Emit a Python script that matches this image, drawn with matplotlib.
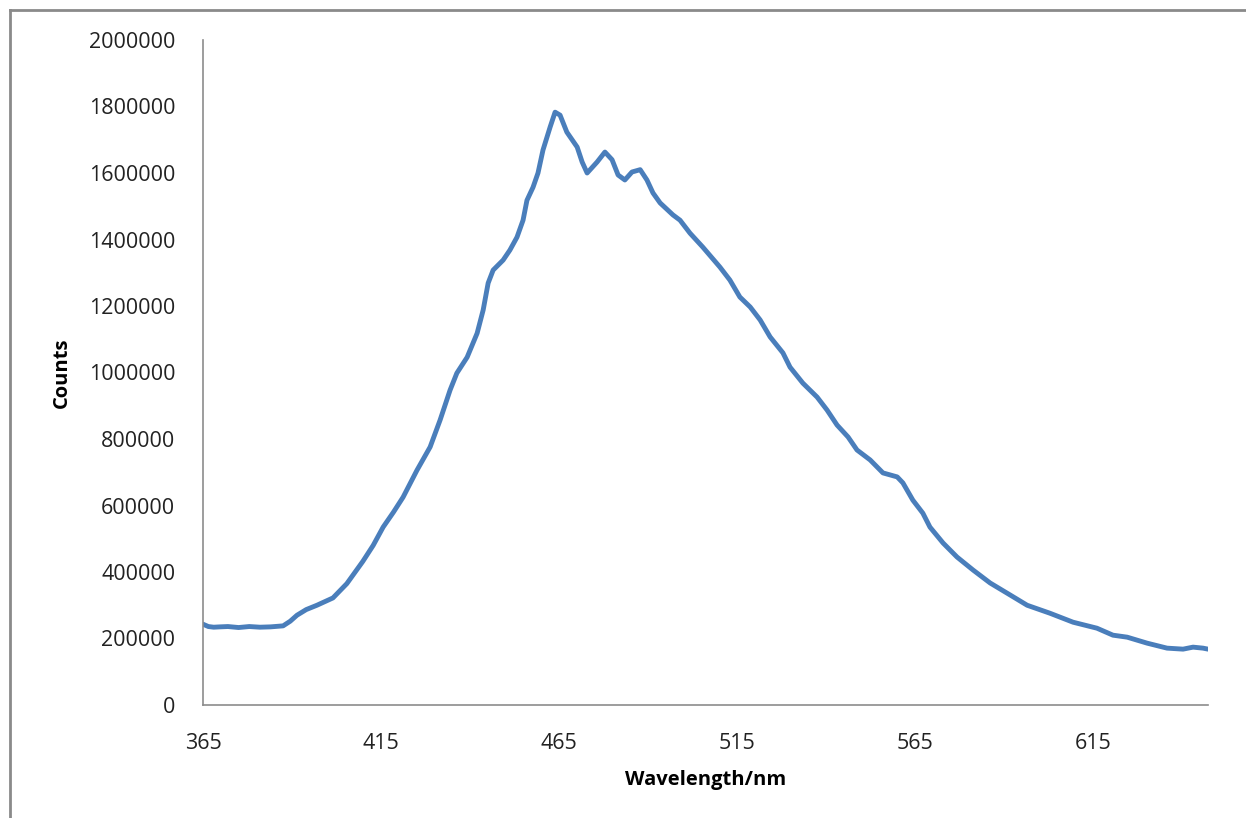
import matplotlib
matplotlib.use("Agg")
import matplotlib.pyplot as plt
from matplotlib.lines import Line2D

# Emission spectrum: wavelength (nm) and detector counts
wavelength = [365.0, 366.5, 368.0, 369.8, 372.0, 375.0, 378.0, 381.0, 384.0, 387.5,
              389.5, 391.4, 394.0, 397.0, 401.5, 405.4, 409.9, 412.8, 415.6, 418.5,
              421.2, 425.1, 428.8, 431.6, 434.4, 436.3, 439.2, 442.0, 443.7, 445.1,
              446.5, 449.3, 451.2, 453.2, 454.9, 456.0, 457.7, 459.1, 460.5, 462.5,
              463.9, 465.3, 467.2, 470.1, 471.5, 472.9, 475.7, 477.9, 479.9, 481.6,
              483.5, 485.5, 487.8, 489.7, 491.4, 493.4, 497.0, 499.0, 501.8, 505.4,
              510.2, 513.0, 515.8, 518.7, 521.5, 524.3, 527.9, 529.9, 533.5, 537.5,
              540.3, 543.1, 546.2, 548.7, 552.4, 556.0, 560.0, 561.6, 564.4, 567.2,
              569.2, 572.9, 576.8, 581.3, 586.1, 591.7, 596.5, 602.9, 609.4, 616.1,
              620.6, 624.6, 630.2, 635.8, 640.3, 643.1, 645.9, 647.3]
counts = [243000, 236000, 234000, 235000, 236000, 233000, 236000, 234000, 235000, 238000,
          252000, 270000, 287000, 300000, 322000, 365000, 432000, 480000, 535000, 580000,
          625000, 706000, 776000, 857000, 947000, 998000, 1046000, 1118000, 1188000, 1269000,
          1308000, 1338000, 1368000, 1407000, 1458000, 1518000, 1557000, 1600000, 1669000, 1738000,
          1783000, 1774000, 1723000, 1678000, 1633000, 1600000, 1633000, 1663000, 1640000, 1594000,
          1579000, 1603000, 1610000, 1579000, 1540000, 1510000, 1474000, 1458000, 1419000, 1377000,
          1317000, 1278000, 1227000, 1197000, 1158000, 1107000, 1059000, 1016000, 968000, 926000,
          887000, 842000, 806000, 767000, 737000, 698000, 686000, 668000, 616000, 577000,
          535000, 487000, 445000, 406000, 367000, 331000, 300000, 276000, 249000, 231000,
          210000, 204000, 186000, 171000, 168000, 174000, 171000, 168000]

x_ticks = [365, 415, 465, 515, 565, 615]
y_ticks = [0, 200000, 400000, 600000, 800000, 1000000, 1200000, 1400000,
           1600000, 1800000, 2000000]

plt.rcParams['font.family'] = ['Open Sans', 'DejaVu Sans']

W, H = 1246, 818
fig = plt.figure(figsize=(W / 100, H / 100), dpi=100)
ax = fig.add_axes([203 / W, 1 - 705 / H, (1208 - 203) / W, (705 - 40) / H])

ax.plot(wavelength, counts, color='#4A7EBB', linewidth=3.5,
        solid_joinstyle='round', solid_capstyle='round')

ax.set_xlim(365, 647.3)
ax.set_ylim(0, 2000000)
ax.set_xticks(x_ticks)
ax.set_xticklabels([str(t) for t in x_ticks])
ax.set_yticks(y_ticks)
ax.set_yticklabels([str(t) for t in y_ticks])
ax.tick_params(axis='both', length=0, labelsize=15.5, colors='#222222')
ax.tick_params(axis='x', pad=20)
ax.tick_params(axis='y', pad=20)

for side in ('top', 'right'):
    ax.spines[side].set_visible(False)
for side in ('left', 'bottom'):
    ax.spines[side].set_color('#8C8C8C')
    ax.spines[side].set_linewidth(1.2)

ax.set_xlabel('Wavelength/nm', fontsize=14.5, fontweight='bold', labelpad=12)
ax.set_ylabel('Counts', fontsize=14.5, fontweight='bold', labelpad=12)

# Outer chart frame (left and top edges)
fig.add_artist(Line2D([9.5 / W, 9.5 / W], [0, 1 - 10 / H], transform=fig.transFigure,
                      color='#8A8A8A', linewidth=2.0))
fig.add_artist(Line2D([9.5 / W, 1], [1 - 10 / H, 1 - 10 / H], transform=fig.transFigure,
                      color='#8A8A8A', linewidth=2.0))

fig.savefig('out.png', dpi=100)
